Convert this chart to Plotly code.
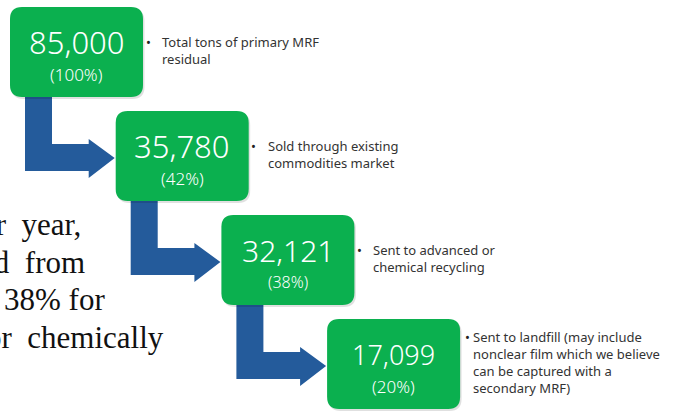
import plotly.graph_objects as go

# flow of primary MRF residual (tons / share of total)
tons = [85000, 35780, 32121, 17099]
shares = [100, 42, 38, 20]
notes = [
    "Total tons of primary MRF<br>residual",
    "Sold through existing<br>commodities market",
    "Sent to advanced or<br>chemical recycling",
    "Sent to landfill (may include<br>nonclear film which we believe<br>can be captured with a<br>secondary MRF)",
]
# slide body text, clipped on the left edge of the picture
body_lines = ["tons per\u2002year,", "produced\u00a0\u00a0from", "38% for", "or\u00a0\u00a0chemically"]

GREEN = "#0BB04F"
BLUE = "#245B9B"
W, H = 689, 411

# box layout (pixel-like coordinates on hidden axes)
x0, y0, dx, dy = 10, 7, 105.7, 104
bw, bh, rad = 133, 90, 12
num_size = [31, 31, 30, 27]
pct_size = [17, 17, 16, 17]
note_gap = [17, 17, 17, 11]
bullet_gap = [12, 12, 12, 4]


def rounded_box(x, y, w, h, r):
    return (f"M{x+r},{y} L{x+w-r},{y} Q{x+w},{y} {x+w},{y+r} "
            f"L{x+w},{y+h-r} Q{x+w},{y+h} {x+w-r},{y+h} "
            f"L{x+r},{y+h} Q{x},{y+h} {x},{y+h-r} "
            f"L{x},{y+r} Q{x},{y} {x+r},{y} Z")


fig = go.Figure()
shapes = []
ann = []

n = len(tons)
lefts = [x0 + i * dx for i in range(n)]
tops = [y0 + i * dy for i in range(n)]

# bent arrows between boxes
for i in range(n - 1):
    L, T = lefts[i], tops[i]
    nL, nT = lefts[i + 1], tops[i + 1]
    xl, xr = L + 15, L + 42
    tip = nL - 1
    hx = tip - 26
    pts = [(xl, T + bh - 4), (xr, T + bh - 4), (xr, nT + 33), (hx, nT + 33),
           (hx, nT + 28), (tip, nT + 47), (hx, nT + 67), (hx, nT + 60),
           (xl, nT + 60)]
    path = "M" + " L".join(f"{px},{py}" for px, py in pts) + " Z"
    shapes.append(dict(type="path", path=path, xref="x", yref="y",
                       fillcolor=BLUE, line=dict(width=0), layer="below"))

for i in range(n):
    L, T = lefts[i], tops[i]
    # faint shadow then the green box
    shapes.append(dict(type="path", path=rounded_box(L + 1.5, T + 2, bw, bh, rad),
                       xref="x", yref="y", fillcolor="rgba(0,0,0,0.12)",
                       line=dict(width=0), layer="above"))
    shapes.append(dict(type="path", path=rounded_box(L, T, bw, bh, rad),
                       xref="x", yref="y", fillcolor=GREEN,
                       line=dict(width=0), layer="above"))
    cx = L + bw / 2
    ann.append(dict(x=cx, y=T + 35, text=f"{tons[i]:,}", showarrow=False,
                    font=dict(family="Noto Sans", size=num_size[i], color="white", weight=300),
                    xanchor="center", yanchor="middle"))
    ann.append(dict(x=cx, y=T + 67, text=f"({shares[i]}%)", showarrow=False,
                    font=dict(family="Noto Sans", size=pct_size[i], color="white", weight=300),
                    xanchor="center", yanchor="middle"))
    # bullet note to the right of the box
    nlines = notes[i].count("<br>") + 1
    mid = T + bh / 2 - 2
    first = mid - (nlines - 1) * 16.8 / 2
    ann.append(dict(x=L + bw + note_gap[i], y=mid, text=notes[i], showarrow=False,
                    font=dict(family="Noto Sans", size=13, color="#333333"),
                    xanchor="left", yanchor="middle", align="left"))
    ann.append(dict(x=L + bw + note_gap[i] - bullet_gap[i], y=first, text="\u2022",
                    showarrow=False,
                    font=dict(family="Noto Sans", size=13, color="#222222"),
                    xanchor="center", yanchor="middle"))

# clipped body text on the left
body_end = [83, 87, 107, 166]
body_base = [232, 270, 307, 345]
for txt, xe, yb in zip(body_lines, body_end, body_base):
    ann.append(dict(x=xe, y=yb - 8, text=txt, showarrow=False,
                    font=dict(family="Liberation Serif", size=31, color="#111111"),
                    xanchor="right", yanchor="middle"))

fig.update_layout(
    width=W, height=H,
    margin=dict(l=0, r=0, t=0, b=0),
    paper_bgcolor="white", plot_bgcolor="white",
    xaxis=dict(range=[0, W], visible=False, fixedrange=True),
    yaxis=dict(range=[H, 0], visible=False, fixedrange=True),
    shapes=shapes, annotations=ann, showlegend=False,
)

fig.write_html("out.html", config={"displayModeBar": False},
               post_script="document.body.style.margin='0';")
